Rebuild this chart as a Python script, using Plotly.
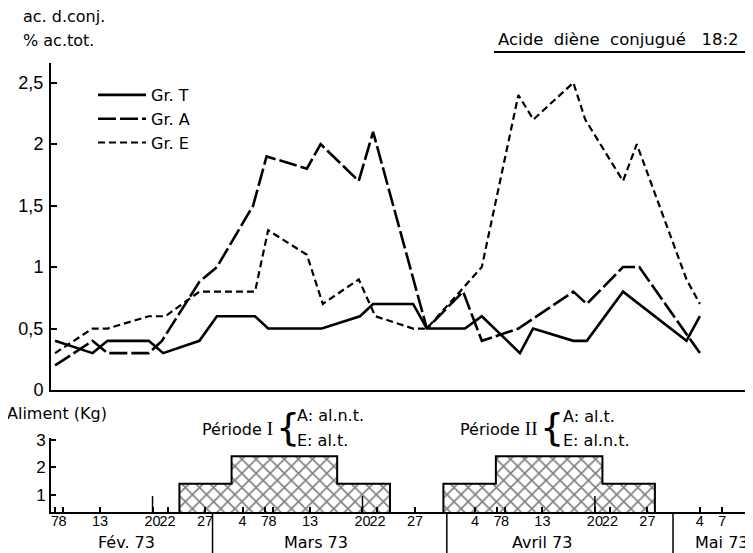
import plotly.graph_objects as go

# ---------------- data ----------------
t_dates = ["1973-02-07", "1973-02-12", "1973-02-14", "1973-02-19 12:00", "1973-02-21 10:00",
           "1973-02-26 06:00", "1973-02-28 14:00", "1973-03-05 16:00", "1973-03-07 10:00",
           "1973-03-14 14:00", "1973-03-19 16:00", "1973-03-21 10:00", "1973-03-26 18:00",
           "1973-03-28 14:00", "1973-04-02 16:00", "1973-04-04 22:00", "1973-04-10",
           "1973-04-11 18:00", "1973-04-17 03:00", "1973-04-18 22:00", "1973-04-23 18:00",
           "1973-05-02 05:00", "1973-05-04"]
t_vals = [0.4, 0.3, 0.4, 0.4, 0.3, 0.4, 0.6, 0.6, 0.5, 0.5, 0.6, 0.7, 0.7, 0.5, 0.5,
          0.6, 0.3, 0.5, 0.4, 0.4, 0.8, 0.4, 0.6]

a_dates = ["1973-02-07", "1973-02-12", "1973-02-14", "1973-02-19 12:00", "1973-02-21 06:00",
           "1973-02-26 06:00", "1973-02-28 14:00", "1973-03-05 10:00", "1973-03-07 05:00",
           "1973-03-12 14:00", "1973-03-14 10:00", "1973-03-19 12:00", "1973-03-21 10:00",
           "1973-03-28 14:00", "1973-04-02 10:00", "1973-04-04 22:00", "1973-04-09 19:00",
           "1973-04-17 03:00", "1973-04-18 22:00", "1973-04-23 18:00", "1973-04-25 22:00",
           "1973-05-04"]
a_vals = [0.2, 0.4, 0.3, 0.3, 0.4, 0.88, 1.0, 1.5, 1.9, 1.8, 2.0, 1.7, 2.1, 0.5, 0.8,
          0.4, 0.5, 0.8, 0.7, 1.0, 1.0, 0.3]

e_dates = ["1973-02-07", "1973-02-12", "1973-02-14", "1973-02-19 12:00", "1973-02-21 17:00",
           "1973-02-26 06:00", "1973-03-05 16:00", "1973-03-07 10:00", "1973-03-12 14:00",
           "1973-03-14 17:00", "1973-03-19 12:00", "1973-03-21 17:00", "1973-03-26 18:00",
           "1973-03-28 14:00", "1973-04-04 22:00", "1973-04-09 19:00", "1973-04-11 19:00",
           "1973-04-17 03:00", "1973-04-18 17:00", "1973-04-23 18:00", "1973-04-25 14:00",
           "1973-05-02 05:00", "1973-05-04"]
e_vals = [0.3, 0.5, 0.5, 0.6, 0.6, 0.8, 0.8, 1.3, 1.1, 0.7, 0.9, 0.6, 0.5, 0.5, 1.0,
          2.4, 2.2, 2.5, 2.2, 1.7, 2.0, 0.9, 0.7]

# food (Aliment, kg) step blocks for the two periods
food1_starts = ["1973-02-23 14:00", "1973-03-02 13:00", "1973-03-16 15:00"]
food1_end = "1973-03-23 16:00"
food1_kg = [1.4, 2.4, 1.4]
food2_starts = ["1973-03-30 19:00", "1973-04-06 19:00", "1973-04-21 00:00"]
food2_end = "1973-04-28 00:00"
food2_kg = [1.4, 2.4, 1.4]

tick_dates = ["1973-02-07", "1973-02-08", "1973-02-13", "1973-02-20", "1973-02-22", "1973-02-27",
              "1973-03-04", "1973-03-07", "1973-03-08", "1973-03-13", "1973-03-20", "1973-03-22",
              "1973-03-27", "1973-04-04", "1973-04-07", "1973-04-08", "1973-04-13", "1973-04-20",
              "1973-04-22", "1973-04-27", "1973-05-04", "1973-05-07"]
tick_text = ["7", "8", "13", "20", "22", "27", "4", "7", "8", "13", "20", "22", "27",
             "4", "7", "8", "13", "20", "22", "27", "4", "7"]
mark_dates = ["1973-02-20", "1973-03-20", "1973-04-20"]
month_bounds = ["1973-02-28", "1973-03-31 06:00", "1973-04-30 10:00"]
month_names = ["Fév. 73", "Mars 73", "Avril 73", "Mai 73"]
month_centers = ["1973-02-16 14:00", "1973-03-13 18:00", "1973-04-13 00:00", "1973-05-07 00:00"]

y_main_ticks = [0, 0.5, 1, 1.5, 2, 2.5]
y_main_text = ["0", "0,5", "1", "1,5", "2", "2,5"]
y_food_ticks = [1, 2, 3]

# ---------------- geometry helpers ----------------
# the page body has an 8px margin, so the figure is drawn 8px right/down of the window origin
OFF = 8
WIN_W, WIN_H = 753, 553
W, H = WIN_W - OFF, WIN_H - OFF
ML, MR, MT, MB = 51 - OFF, 0, 63 - OFF, WIN_H - 512
PW, PH = W - ML - MR, H - MT - MB


def px(x):  # window pixel -> paper x
    return (x - OFF - ML) / PW


def py(y):  # window pixel -> paper y
    return (WIN_H - MB - y) / PH


FONT = "DejaVu Sans"
NUMF = "Liberation Sans"
X_RANGE = ["1973-02-06 11:00", "1973-05-11 02:00"]

fig = go.Figure()

line_w = 2.6
fig.add_trace(go.Scatter(x=t_dates, y=t_vals, mode="lines", name="Gr. T",
                         line=dict(color="black", width=line_w), xaxis="x", yaxis="y"))
fig.add_trace(go.Scatter(x=a_dates, y=a_vals, mode="lines", name="Gr. A",
                         line=dict(color="black", width=line_w, dash="18px,4px"), xaxis="x", yaxis="y"))
fig.add_trace(go.Scatter(x=e_dates, y=e_vals, mode="lines", name="Gr. E",
                         line=dict(color="black", width=line_w - 0.4, dash="7px,4px"), xaxis="x", yaxis="y"))


def step_trace(starts, end, kg):
    xs = [starts[0]] + list(starts) + [end, end]
    ys = [0] + list(kg) + [kg[-1], 0]
    return go.Scatter(x=xs, y=ys, mode="lines", line=dict(color="black", width=2, shape="hv"),
                      fill="toself", fillcolor="white",
                      fillpattern=dict(shape="x", size=10, solidity=0.3, fgcolor="black", bgcolor="white"),
                      showlegend=False, xaxis="x2", yaxis="y2", hoverinfo="skip")


fig.add_trace(step_trace(food1_starts, food1_end, food1_kg))
fig.add_trace(step_trace(food2_starts, food2_end, food2_kg))

main_bottom = py(390)
food_top = py(438)

fig.update_layout(
    width=W, height=H, margin=dict(l=ML, r=MR, t=MT, b=MB),
    paper_bgcolor="white", plot_bgcolor="white",
    font=dict(family=FONT, color="black", size=16),
    xaxis=dict(domain=[0, 1], anchor="y", range=X_RANGE, type="date", showline=True, linecolor="black",
               linewidth=2, showticklabels=False, ticks="", showgrid=False, zeroline=False),
    yaxis=dict(domain=[main_bottom, 1], anchor="x", range=[0, 2.66], showline=True, linecolor="black",
               linewidth=2, ticks="inside", ticklen=6, tickwidth=1.5, tickcolor="black",
               tickvals=y_main_ticks, ticktext=y_main_text, showgrid=False, zeroline=False,
               tickfont=dict(family=NUMF, size=18), ticklabelstandoff=2),
    xaxis2=dict(domain=[0, 1], anchor="y2", range=X_RANGE, type="date", showline=True, linecolor="black",
                linewidth=2, ticks="inside", ticklen=5, tickwidth=1.5, tickcolor="black",
                tickvals=tick_dates, ticktext=tick_text, showgrid=False, zeroline=False,
                tickfont=dict(family=NUMF, size=14.5), tickangle=0, ticklabelstandoff=-5),
    yaxis2=dict(domain=[0, food_top], anchor="x2", range=[0.37, 3.07], showline=True, linecolor="black",
                linewidth=2, ticks="inside", ticklen=5, tickwidth=1.5, tickcolor="black",
                tickvals=y_food_ticks, showgrid=False, zeroline=False,
                tickfont=dict(family=NUMF, size=17)),
    showlegend=True,
    legend=dict(x=px(93), y=py(78), xanchor="left", yanchor="top", bgcolor="rgba(0,0,0,0)",
                font=dict(family=FONT, size=16), tracegroupgap=0, itemwidth=48),
)

shapes = []
for d in mark_dates:
    shapes.append(dict(type="line", xref="x2", yref="y2", x0=d, x1=d, y0=0.37, y1=0.95,
                       line=dict(color="black", width=1.5)))
for d in month_bounds:
    shapes.append(dict(type="line", xref="x2", yref="paper", x0=d, x1=d, y0=0, y1=py(WIN_H),
                       line=dict(color="black", width=1.5)))
shapes.append(dict(type="line", xref="paper", yref="paper", x0=px(494), x1=px(746), y0=py(52), y1=py(52),
                   line=dict(color="black", width=2)))
fig.update_layout(shapes=shapes)

ann = []
for name, c in zip(month_names, month_centers):
    ann.append(dict(x=c, xref="x2", y=py(542), yref="paper", text=name, showarrow=False,
                    xanchor="center", yanchor="middle", font=dict(size=16)))


def txt(x, y, s, anchor="left", size=16):
    ann.append(dict(x=px(x), y=py(y), xref="paper", yref="paper", text=s, showarrow=False,
                    xanchor=anchor, yanchor="middle", font=dict(size=size)))


txt(21, 16, "ac. d.conj.")
txt(21, 40, "% ac.tot.")
txt(496, 39, "Acide\u00a0\u00a0diène\u00a0\u00a0conjugué\u00a0\u00a0\u00a018:2", size=16.5)
txt(5, 413, "Aliment (Kg)")
txt(275, 428, "Période <span style='font-family:Liberation Serif;font-size:19px'>I</span>", anchor="right")
txt(288, 427, "{", anchor="center", size=38)
txt(295, 415, "A: al.n.t.")
txt(295, 440, "E: al.t.")
txt(539, 428, "Période <span style='font-family:Liberation Serif;font-size:19px'>II</span>", anchor="right")
txt(552, 427, "{", anchor="center", size=38)
txt(561, 416, "A: al.t.")
txt(561, 440, "E: al.n.t.")
fig.update_layout(annotations=ann)

fig.write_html("out.html")
